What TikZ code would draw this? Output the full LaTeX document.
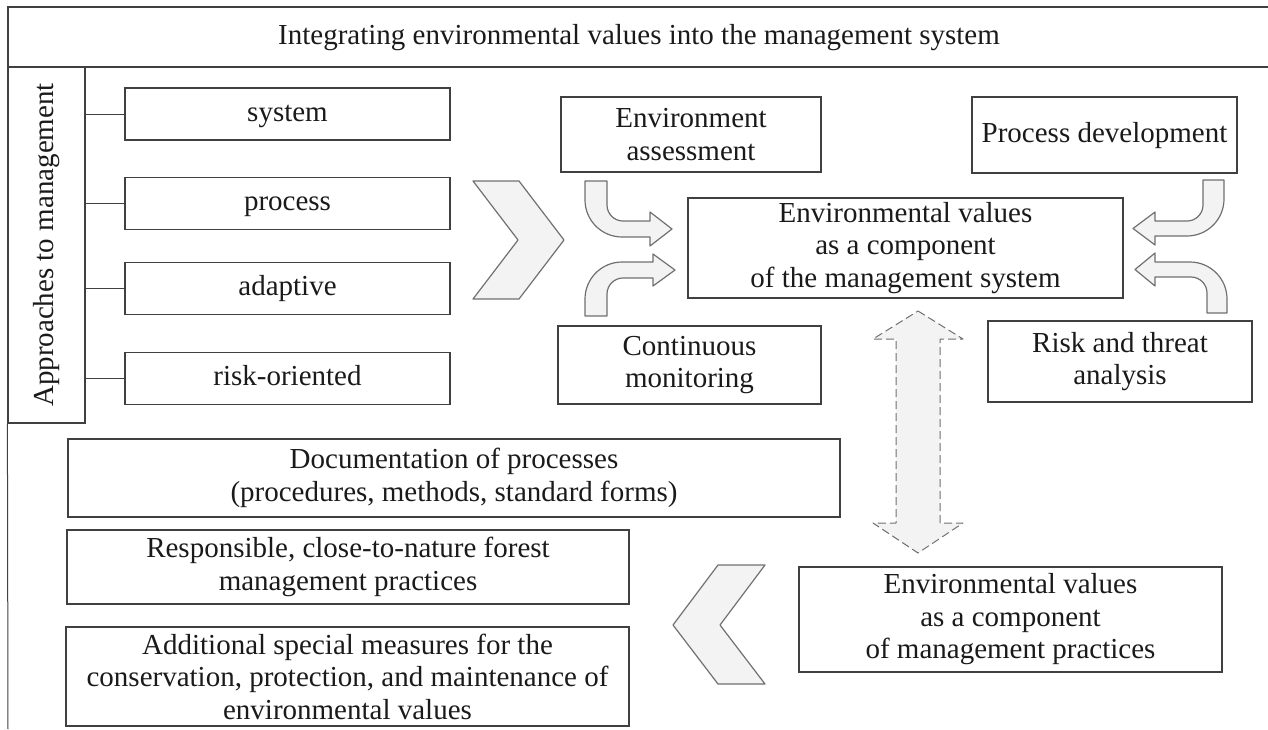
\documentclass[tikz,border=0pt]{standalone}
\usepackage{fontspec}
\setmainfont{Liberation Serif}

\definecolor{boxline}{HTML}{404040}
\definecolor{arrowline}{HTML}{707070}
\definecolor{arrowfill}{HTML}{F3F3F3}
\definecolor{textcol}{HTML}{1A1A1A}

\tikzset{
  box/.style={draw=boxline, line width=1.2pt, inner sep=2pt, align=center,
    text=textcol, font=\fontsize{29}{32.5}\selectfont},
  oneline/.style={text height=21pt, text depth=7pt},
  blockarrow/.style={draw=arrowline, fill=arrowfill, line width=1.2pt, line join=round},
  link/.style={draw=boxline, line width=1pt}
}

\begin{document}
\begin{tikzpicture}[x=1pt,y=-1pt]
\useasboundingbox (0,0) rectangle (1268,729);
\clip (0,0) rectangle (1268,729);

\node[box, oneline, minimum width=1262pt, minimum height=60pt](title) at (639,37){Integrating environmental values into the management system};
\node[box, minimum width=77pt, minimum height=356pt](approaches) at (46.5,245){\rotatebox{90}{Approaches to management}};
\coordinate (bottomleft) at (8,729);

\node[box, oneline, minimum width=325pt, minimum height=52pt](system) at (287.5,114){system};
\node[box, oneline, minimum width=325pt, minimum height=52pt](process) at (287.5,203.5){process};
\node[box, oneline, minimum width=325pt, minimum height=52pt](adaptive) at (287.5,288.5){adaptive};
\node[box, oneline, minimum width=325pt, minimum height=52pt](risk) at (287.5,378.5){risk-oriented};

\node[box, minimum width=260pt, minimum height=75pt](assess) at (691,134.5){Environment\\assessment};
\node[box, oneline, minimum width=265pt, minimum height=76pt](develop) at (1104.5,135){Process development};
\node[box, minimum width=435pt, minimum height=100pt](sysvalues) at (905.5,248){Environmental values\\as a component\\of the management system};
\node[box, minimum width=263pt, minimum height=78pt](monitor) at (689.5,365){Continuous\\monitoring};
\node[box, minimum width=264pt, minimum height=81pt](threat) at (1120,361.5){Risk and threat\\analysis};

\node[box, minimum width=772pt, minimum height=78pt](docs) at (454,478){Documentation of processes\\(procedures, methods, standard forms)};
\node[box, minimum width=562pt, minimum height=74pt](forest) at (348,567){Responsible, close-to-nature forest\\management practices};
\node[box, minimum width=563pt, minimum height=99pt](measures) at (347.5,676.5){Additional special measures for the\\conservation, protection, and maintenance of\\environmental values};
\node[box, minimum width=423pt, minimum height=105pt](practvalues) at (1010.5,619.5){Environmental values\\as a component\\of management practices};

\draw[link] (approaches.south west) -- (bottomleft);
\draw[link] (system.west) -- (system.west -| approaches.east);
\draw[link] (process.west) -- (process.west -| approaches.east);
\draw[link] (adaptive.west) -- (adaptive.west -| approaches.east);
\draw[link] (risk.west) -- (risk.west -| approaches.east);

\draw[blockarrow, line width=1pt, dash pattern=on 8pt off 4pt] (918,311) -- (963,339) -- (940,339) -- (940,523)
  -- (963,523) -- (918,553) -- (873,523) -- (896,523) -- (896,339) -- (873,339) -- cycle;

\draw[blockarrow] (473,181) -- (519,181) -- (564,240) -- (519,299) -- (473,299) -- (518,240) -- cycle;
\draw[blockarrow] (765,565) -- (718,565) -- (673,625) -- (718,684) -- (765,684) -- (720,625) -- cycle;

\draw[blockarrow] (585,181) -- (585,200) .. controls (585,220.4) and (601.6,237) .. (622,237)
  -- (650,237) -- (650,246) -- (672,229) -- (650,212) -- (650,221) -- (623,221)
  .. controls (614.2,221) and (607,213.8) .. (607,205) -- (607,181) -- cycle;
\draw[blockarrow] (585,316) -- (585,299) .. controls (585,278.6) and (601.6,262) .. (622,262)
  -- (653,262) -- (653,254) -- (675,270) -- (653,286) -- (653,278) -- (623,278)
  .. controls (614.2,278) and (607,285.2) .. (607,294) -- (607,316) -- cycle;
\draw[blockarrow] (1203,180) -- (1224,180) -- (1224,199) .. controls (1224,219.4) and (1207.4,236) .. (1187,236)
  -- (1155,236) -- (1155,245) -- (1133,228.5) -- (1155,212) -- (1155,221) -- (1187,221)
  .. controls (1195.8,221) and (1203,213.8) .. (1203,205) -- cycle;
\draw[blockarrow] (1207,313) -- (1227,313) -- (1227,299) .. controls (1227,278.6) and (1210.4,262) .. (1190,262)
  -- (1155,262) -- (1155,253) -- (1135,269.5) -- (1155,286) -- (1155,277) -- (1191,277)
  .. controls (1199.8,277) and (1207,284.2) .. (1207,293) -- cycle;
\end{tikzpicture}
\end{document}
